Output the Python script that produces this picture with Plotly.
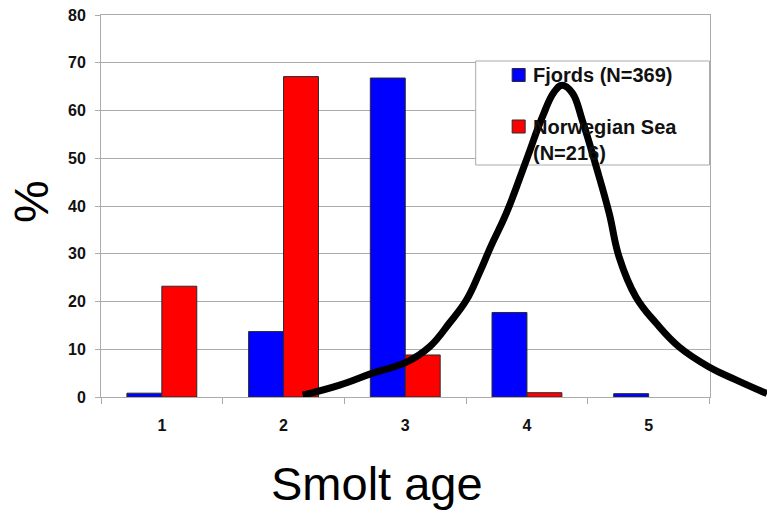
import plotly.graph_objects as go

# Smolt age distribution of salmon caught in fjords vs. the Norwegian Sea
ages = ["1", "2", "3", "4", "5"]
fjords = [0.8, 13.7, 66.8, 17.7, 0.7]
norwegian_sea = [23.2, 67.1, 8.8, 0.9, 0.0]
series_names = ["Fjords (N=369)", "Norwegian Sea<br>(N=216)"]
series_colors = ["#0000FF", "#FF0000"]

# Hand-drawn curve over the bars (x in smolt-age units, y in %)
curve_x = [2.156, 2.459, 2.730, 3.008, 3.197, 3.361, 3.500, 3.607, 3.700,
           3.828, 3.992, 4.123, 4.221, 4.287, 4.369, 4.451, 4.566, 4.672,
           4.754, 4.893, 5.057, 5.246, 5.492, 5.713, 5.968]
curve_y = [0.4, 2.5, 5.0, 7.3, 10.5, 15.5, 20.3, 26.0, 31.5,
           38.5, 49.6, 58.6, 63.9, 65.3, 63.7, 58.0, 48.2, 38.5,
           29.3, 20.9, 15.5, 10.5, 6.3, 3.6, 0.7]

W, H = 767, 510
M_L, M_T, M_B = 101, 15, 113
bar_right = 710
pw = bar_right - M_L
ph = H - M_B - M_T
bar_dom = pw / (W - M_L)
FONT = "Liberation Sans, Arial, sans-serif"
GRID = "#ababab"
Y_MAX = 80


def px_to_xcat(px):
    """Pixel column -> category-axis coordinate (category index)."""
    return (px - M_L) / pw * len(ages) - 0.5


def px_to_y(py):
    """Pixel row -> y value in %."""
    return (H - M_B - py) / ph * Y_MAX


fig = go.Figure()
for name, vals, col in zip(series_names, [fjords, norwegian_sea], series_colors):
    # no outline on empty bars so a zero value leaves nothing on the axis
    outline = [0 if v == 0 else 1 for v in vals]
    fig.add_bar(x=ages, y=vals, name=name,
                marker=dict(color=col, line=dict(color="#2a2a2a", width=outline)),
                showlegend=False)

fig.add_scatter(x=curve_x, y=curve_y, mode="lines", xaxis="x2", yaxis="y2",
                line=dict(color="black", width=7, shape="spline", smoothing=1.2),
                showlegend=False, hoverinfo="skip")

# Legend panel drawn as shapes so the curve can pass over it
shapes = [dict(type="rect", xref="x", yref="y", layer="between",
               x0=px_to_xcat(476), x1=px_to_xcat(bar_right),
               y0=px_to_y(165), y1=px_to_y(61),
               fillcolor="white", line=dict(color=GRID, width=1))]
annotations = []
legend_rows = [(68.5, 75.0), (120.0, 139.5)]
for (sq_top, txt_mid), name, col in zip(legend_rows, series_names, series_colors):
    shapes.append(dict(type="rect", xref="x", yref="y", layer="between",
                       x0=px_to_xcat(512.5), x1=px_to_xcat(525.5),
                       y0=px_to_y(sq_top + 13), y1=px_to_y(sq_top),
                       fillcolor=col, line=dict(color="#2a2a2a", width=1)))
    annotations.append(dict(xref="paper", yref="paper", x=(531 - M_L) / (W - M_L),
                            y=(H - M_B - txt_mid) / ph, xanchor="left", yanchor="middle",
                            text=name, showarrow=False, align="left",
                            font=dict(family=FONT, size=20, color="#111111", weight="bold")))

# Axis titles
annotations.append(dict(xref="paper", yref="paper", x=(376.5 - M_L) / (W - M_L),
                        y=(H - M_B - 483) / ph, xanchor="center", yanchor="middle",
                        text="Smolt age", showarrow=False,
                        font=dict(family=FONT, size=47, color="black")))
annotations.append(dict(xref="paper", yref="paper", x=(31.5 - M_L) / (W - M_L),
                        y=(H - M_B - 201.5) / ph, xanchor="center", yanchor="middle",
                        text="%", textangle=-90, showarrow=False,
                        font=dict(family=FONT, size=48, color="black")))

fig.update_layout(
    width=W, height=H,
    margin=dict(l=M_L, r=0, t=M_T, b=M_B),
    paper_bgcolor="white", plot_bgcolor="rgba(0,0,0,0)",
    barmode="group", bargap=0.426, bargroupgap=0,
    showlegend=False,
    shapes=shapes, annotations=annotations,
    xaxis=dict(domain=[0, bar_dom], type="category", tickson="boundaries",
               ticks="outside", ticklen=6, tickcolor=GRID, showline=True, linecolor=GRID,
               mirror=True, showgrid=False, ticklabelstandoff=14,
               tickfont=dict(family=FONT, size=16, color="#111111", weight="bold")),
    yaxis=dict(range=[0, Y_MAX], dtick=10, showgrid=True, gridcolor=GRID, gridwidth=1,
               zeroline=False, showline=True, linecolor=GRID, mirror=True,
               ticks="outside", ticklen=5, tickcolor=GRID, ticklabelstandoff=6,
               tickfont=dict(family=FONT, size=16, color="#111111", weight="bold")),
    xaxis2=dict(domain=[0, 1], anchor="y2", range=[0.5, 0.5 + len(ages) / bar_dom],
                visible=False),
    yaxis2=dict(domain=[0, 1], anchor="x2", range=[0, Y_MAX], visible=False),
)

fig.write_html("out.html")
